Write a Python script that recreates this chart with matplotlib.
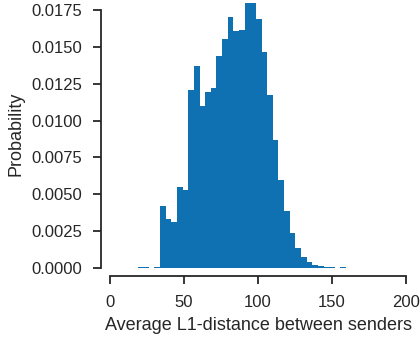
import numpy as np
import matplotlib
matplotlib.use("Agg")
import matplotlib.pyplot as plt

# ---- data (density per bin) ----
bin_start = -0.4
bin_end = 190.0
n_bins = 50
heights = [
    0.00003, 0.0, 0.0, 0.00002, 0.0, 0.00004, 0.0001, 0.00002, 0.00004,
    0.00421, 0.00332, 0.00314, 0.00549, 0.00529, 0.01207, 0.01370, 0.01099,
    0.01194, 0.01221, 0.01438, 0.01553, 0.01703, 0.01608, 0.01614, 0.01797,
    0.01797, 0.01689, 0.01465, 0.01173, 0.00868, 0.00597, 0.00387, 0.00237,
    0.00136, 0.00073, 0.00043, 0.00020, 0.00014, 0.00008, 0.00007, 0.00002,
    0.00007, 0.0, 0.0, 0.0, 0.0, 0.0, 0.0, 0.0, 0.00003,
]
x_ticks = [0, 50, 100, 150, 200]
y_ticks = [0.0, 0.0025, 0.005, 0.0075, 0.01, 0.0125, 0.015, 0.0175]
x_label = "Average L1-distance between senders"
y_label = "Probability"

edges = np.linspace(bin_start, bin_end, n_bins + 1)

plt.rcParams['font.family'] = ['Liberation Sans', 'DejaVu Sans']

fig = plt.figure(figsize=(4.2, 3.38), dpi=100)
ax = fig.add_axes([109 / 420, 70 / 338, 298 / 420, 268 / 338])

ax.bar(edges[:-1], heights, width=np.diff(edges), align='edge',
       color='#0F71B1', edgecolor='none', linewidth=0)

ax.set_xlim(-0.68, 200.7)
ax.set_ylim(0, 0.01818)
ax.set_xticks(x_ticks)
ax.set_yticks(y_ticks)
ax.set_yticklabels([f"{v:.4f}" for v in y_ticks])
ax.set_xlabel(x_label, fontsize=13, labelpad=5)
ax.set_ylabel(y_label, fontsize=13, labelpad=5)

for s in ['top', 'right']:
    ax.spines[s].set_visible(False)
for s in ['left', 'bottom']:
    ax.spines[s].set_position(('outward', 5.8))
    ax.spines[s].set_linewidth(1.3)
    ax.spines[s].set_color('#262626')
ax.spines['left'].set_bounds(0, 0.0175)
ax.spines['bottom'].set_bounds(0, 200)
ax.tick_params(axis='both', length=6, width=1.3, color='#262626',
               labelsize=12, labelcolor='#262626', pad=7.5)
ax.xaxis.label.set_color('#262626')
ax.yaxis.label.set_color('#262626')

fig.savefig("out.png", dpi=100)
